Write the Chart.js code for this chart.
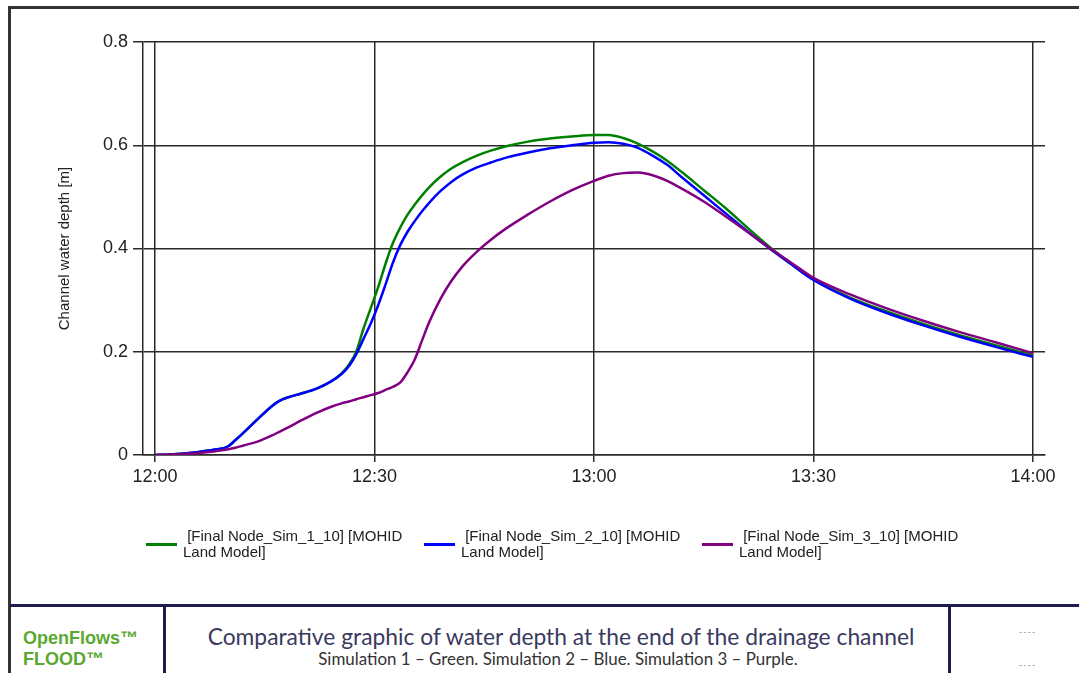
<!DOCTYPE html>
<html>
<head>
<meta charset="utf-8">
<script src="https://cdn.jsdelivr.net/npm/chart.js@4.4.1/dist/chart.umd.min.js"></script>
<style>
  html, body { margin: 0; padding: 0; background: #fff; }
  body { width: 1079px; height: 673px; position: relative; overflow: hidden; font-family: "Liberation Sans", Arial, sans-serif; }
  #chart { position: absolute; left: 0; top: 0; }
  .bar { position: absolute; }
  .legline { position: absolute; height: 3px; width: 31px; }
  .legtext { position: absolute; font-size: 15px; line-height: 16px; color: #222; white-space: nowrap; }
  .fit { position: absolute; white-space: nowrap; }
</style>
</head>
<body>
<canvas id="chart" width="1079" height="600"></canvas>

<!-- frame -->
<div class="bar" style="left:8px;top:6px;width:1071px;height:3px;background:#333;"></div>
<div class="bar" style="left:8px;top:6px;width:3px;height:667px;background:#333;"></div>
<div class="bar" style="left:10px;top:604px;width:1069px;height:3px;background:#1d1b4f;"></div>
<div class="bar" style="left:163px;top:606px;width:3px;height:67px;background:#1d1b4f;"></div>
<div class="bar" style="left:948px;top:606px;width:3px;height:67px;background:#1d1b4f;"></div>

<!-- legend -->
<div id="legend"></div>

<!-- footer -->
<div class="fit" style="left:23px;top:630px;font-size:18px;line-height:17px;font-weight:bold;color:#5aa832;">OpenFlows™</div>
<div class="fit" style="left:23px;top:651px;font-size:18px;line-height:17px;font-weight:bold;color:#5aa832;">FLOOD™</div>
<div id="ftitle" class="fit" data-w="707" data-cx="561" data-cy="636" style="font-family:Lato,'Open Sans',sans-serif;color:#3a3a5e;font-size:21px;line-height:1;">Comparative graphic of water depth at the end of the drainage channel</div>
<div id="fsub" class="fit" data-w="480" data-cx="558" data-cy="659" style="font-family:Lato,'Open Sans',sans-serif;color:#333;font-size:14px;line-height:1;">Simulation 1 – Green. Simulation 2 – Blue. Simulation 3 – Purple.</div>
<div class="fit" style="left:1019px;top:626px;font-size:10px;color:#aaa;letter-spacing:1px;">----</div>
<div class="fit" style="left:1019px;top:659px;font-size:10px;color:#aaa;letter-spacing:1px;">----</div>

<script>
// ---------------- data ----------------
const times = [0,2,4,6,8,10,11,12,14,16,17,18,20,22,24,25.5,26.6,27.5,28.5,29.5,30.5,31.5,32.5,33.5,34.5,35.5,36.5,37.5,39,40.5,42,44,46,48,51,54,57,60,62,64,66,68,70,72,75,78,81,84,87,90,95,100,105,110,115,120];

const sim1 = [0,0.001,0.003,0.006,0.01,0.017,0.029,0.042,0.069,0.095,0.105,0.111,0.119,0.128,0.142,0.158,0.177,0.20,0.245,0.285,0.325,0.37,0.41,0.44,0.465,0.485,0.503,0.519,0.539,0.555,0.567,0.580,0.590,0.598,0.607,0.613,0.617,0.62,0.62,0.614,0.603,0.588,0.57,0.548,0.513,0.478,0.44,0.403,0.37,0.34,0.305,0.278,0.254,0.232,0.212,0.193];

const sim2 = [0,0.001,0.003,0.006,0.01,0.017,0.029,0.042,0.069,0.095,0.105,0.111,0.119,0.128,0.142,0.157,0.174,0.195,0.225,0.255,0.29,0.33,0.372,0.406,0.432,0.453,0.472,0.489,0.511,0.529,0.543,0.557,0.567,0.576,0.586,0.594,0.600,0.605,0.606,0.603,0.595,0.58,0.562,0.538,0.503,0.468,0.433,0.40,0.369,0.339,0.303,0.275,0.251,0.229,0.209,0.19];

const sim3 = [0,0.001,0.002,0.004,0.007,0.011,0.014,0.018,0.026,0.038,0.045,0.052,0.067,0.081,0.093,0.10,0.104,0.108,0.112,0.116,0.12,0.126,0.132,0.14,0.16,0.185,0.222,0.258,0.302,0.337,0.365,0.394,0.418,0.439,0.466,0.491,0.513,0.531,0.541,0.546,0.547,0.542,0.531,0.516,0.491,0.462,0.432,0.401,0.372,0.343,0.311,0.284,0.26,0.238,0.218,0.197];

const seriesNames = ["[Final Node_Sim_1_10] [MOHID Land Model]", "[Final Node_Sim_2_10] [MOHID Land Model]", "[Final Node_Sim_3_10] [MOHID Land Model]"];
const seriesColors = ["#008000", "#0000ff", "#800080"];
const xTickValues = [0, 30, 60, 90, 120];
const xTickLabels = ["12:00", "12:30", "13:00", "13:30", "14:00"];
const yTickValues = [0, 0.2, 0.4, 0.6, 0.8];
const yTickLabels = ["0", "0.2", "0.4", "0.6", "0.8"];
const yTitle = "Channel water depth [m]";

// ---------------- chart ----------------
const toPts = arr => arr.map((v, i) => ({x: times[i], y: v}));
const allSeries = [sim1, sim2, sim3];

const datasets = allSeries.map((s, i) => ({
  label: seriesNames[i],
  data: toPts(s),
  borderColor: seriesColors[i],
  backgroundColor: seriesColors[i],
  borderWidth: 2.5,
  pointRadius: 0,
  fill: false,
  cubicInterpolationMode: 'monotone',
  order: 2 - i
}));

const gridCol = '#2a2a2a';
const tickFont = {family: "'Liberation Sans', Arial, sans-serif", size: 18};

new Chart(document.getElementById('chart'), {
  type: 'line',
  data: {datasets},
  options: {
    responsive: false,
    animation: false,
    devicePixelRatio: 1,
    layout: {padding: {top: 42, right: 34, left: 0, bottom: 0}},
    plugins: {legend: {display: false}, tooltip: {enabled: false}},
    scales: {
      x: {
        type: 'linear',
        min: -1.64, max: 121.64,
        afterBuildTicks: sc => { sc.ticks = xTickValues.map(v => ({value: v})); },
        afterFit: sc => { sc.height = 600 - 455; },
        ticks: {
          font: tickFont, color: '#222', padding: 4, maxRotation: 0, autoSkip: false,
          callback: (v) => xTickLabels[xTickValues.indexOf(v)]
        },
        grid: {color: gridCol, lineWidth: 1.5, tickLength: 7, drawTicks: true},
        border: {display: true, color: gridCol, width: 1.5}
      },
      y: {
        type: 'linear',
        min: 0, max: 0.8,
        afterBuildTicks: sc => { sc.ticks = yTickValues.map(v => ({value: v})); },
        afterFit: sc => { sc.width = 143; },
        ticks: {
          font: tickFont, color: '#222', padding: 5,
          callback: (v) => yTickLabels[yTickValues.findIndex(t => Math.abs(t - v) < 1e-9)]
        },
        grid: {color: gridCol, lineWidth: 1.5, tickLength: 10, drawTicks: true},
        border: {display: true, color: gridCol, width: 1.5},
        title: {
          display: true, text: yTitle, color: '#222',
          font: {family: "'Liberation Sans', Arial, sans-serif", size: 15},
          padding: {top: 56, bottom: 0}
        }
      }
    }
  }
});

// ---------------- legend (HTML) ----------------
const legend = document.getElementById('legend');
const legX = [146, 424, 702];
seriesNames.forEach((name, i) => {
  const ln = document.createElement('div');
  ln.className = 'legline';
  ln.style.left = legX[i] + 'px';
  ln.style.top = '543px';
  ln.style.background = seriesColors[i];
  legend.appendChild(ln);
  const tx = document.createElement('div');
  tx.className = 'legtext';
  tx.style.left = (legX[i] + 37) + 'px';
  tx.style.top = '528px';
  const parts = name.split(' [MOHID ');
  tx.innerHTML = '&nbsp;' + parts[0] + ' [MOHID<br>' + parts[1];
  legend.appendChild(tx);
});

// ---------------- fit footer texts ----------------
document.querySelectorAll('.fit[data-w]').forEach(el => {
  const target = +el.dataset.w;
  const fs = parseFloat(getComputedStyle(el).fontSize);
  const w = el.getBoundingClientRect().width;
  const nfs = fs * target / w;
  el.style.fontSize = nfs + 'px';
  el.style.lineHeight = nfs + 'px';
  const r = el.getBoundingClientRect();
  el.style.left = (+el.dataset.cx - r.width / 2) + 'px';
  el.style.top = (+el.dataset.cy - r.height / 2) + 'px';
});
</script>
</body>
</html>
